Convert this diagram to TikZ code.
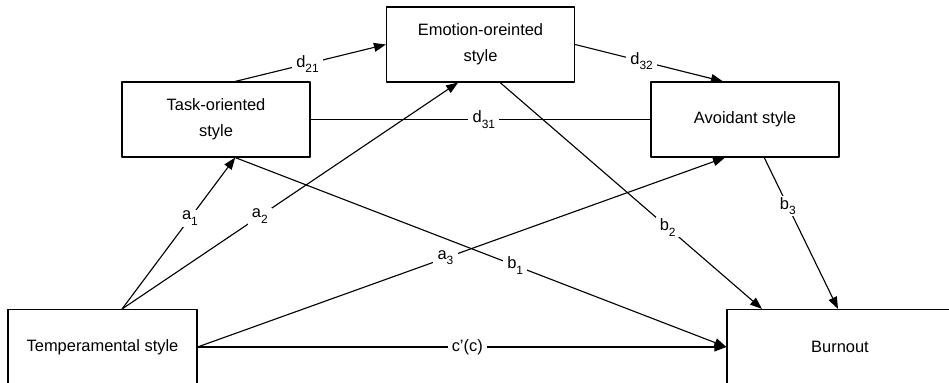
\documentclass[tikz,border=0pt]{standalone}
\usepackage{fontspec}
\setmainfont{Liberation Sans}
\usetikzlibrary{arrows.meta}
\newcommand{\coef}[2]{#1\raisebox{-0.6ex}{\fontsize{8.5}{9}\selectfont #2}}
\tikzset{
	stylebox/.style={draw, minimum width=4.7cm, minimum height=1.875cm, align=center},
	coeflabel/.style={fill=white, inner xsep=3pt, inner ysep=1pt}
}
\begin{document}
\begin{tikzpicture}[font=\fontsize{11.7}{18.5}\selectfont, line width=0.8pt, line join=round, >={Triangle[length=0.3cm,width=0.22cm]}]
	\clip (0,0) rectangle (23.725,9.55);
	% boxes
	\node[stylebox] (task) at (5.4,6.5625) {Task-oriented\\style};
	\node[stylebox] (emo) at (12.0125,8.4375) {Emotion-oreinted\\style};
	\node[stylebox] (avoid) at (18.625,6.5625) {Avoidant style};
	\node[stylebox, minimum width=4.725cm] (temp) at (2.5625,0.875) {Temperamental style};
	\node[stylebox, minimum width=5.65cm] (burn) at (21,0.875) {Burnout};
	% paths a
	\draw[->] ([xshift=0.49cm]temp.north) -- node[coeflabel,pos=0.6]{\coef{a}{1}} ([xshift=0.48cm]task.south);
	\draw[->] ([xshift=0.49cm]temp.north) -- node[coeflabel,pos=0.41]{\coef{a}{2}} ([xshift=-0.56cm]emo.south);
	\draw[->] (temp.east) -- node[coeflabel,pos=0.47]{\coef{a}{3}} ([xshift=-0.5cm]avoid.south);
	\draw[->] (temp.east) -- node[coeflabel,pos=0.51]{c'(c)} (burn.west);
	% paths d
	\draw[->] ([xshift=0.48cm]task.north) -- node[coeflabel,pos=0.48]{\coef{d}{21}} (emo.west);
	\draw[->] (emo.east) -- node[coeflabel,pos=0.45]{\coef{d}{32}} ([xshift=-0.55cm]avoid.north);
	\draw (task.east) -- node[coeflabel,pos=0.51]{\coef{d}{31}} (avoid.west);
	% paths b
	\draw[->] ([xshift=0.48cm]task.south) -- node[coeflabel,pos=0.57]{\coef{b}{1}} (burn.west);
	\draw[->] ([xshift=0.49cm]emo.south) -- node[coeflabel,pos=0.64]{\coef{b}{2}} ([xshift=-1.95cm]burn.north);
	\draw[->] ([xshift=0.48cm]avoid.south) -- node[coeflabel,pos=0.32]{\coef{b}{3}} ([xshift=-0.05cm]burn.north);
\end{tikzpicture}
\end{document}
